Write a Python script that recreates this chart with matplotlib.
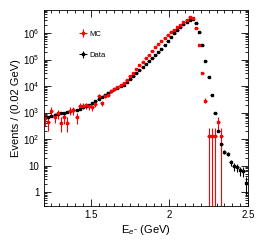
import numpy as np
import matplotlib
matplotlib.use("Agg")
import matplotlib.pyplot as plt
from matplotlib.ticker import MultipleLocator, LogLocator, FuncFormatter, NullFormatter

plt.rcParams['font.family'] = ['Liberation Sans', 'DejaVu Sans']
plt.rcParams['mathtext.fontset'] = 'custom'
plt.rcParams['mathtext.rm'] = 'Liberation Sans'
plt.rcParams['mathtext.it'] = 'Liberation Sans:italic'

# bin centres (0.02 GeV bins from 1.2 to 2.5)
energy = np.round(np.arange(1.21, 2.50, 0.02), 2)

# log10 of counts
data_log = [2.82, 2.85, 2.88, 2.91, 2.95, 2.98, 3.00, 3.03, 3.06, 3.08,
            3.11, 3.15, 3.19, 3.24, 3.30, 3.37, 3.44, 3.51, 3.59, 3.67,
            3.74, 3.82, 3.88, 3.94, 3.99, 4.05, 4.15, 4.26, 4.38, 4.49,
            4.60, 4.71, 4.83, 4.93, 5.04, 5.16, 5.28, 5.41, 5.55, 5.70,
            5.84, 6.01, 6.12, 6.23, 6.33, 6.42, 6.50, 6.54, 6.37, 6.03,
            5.54, 4.94, 4.34, 3.66, 2.97, 2.30, 1.80, 1.52, 1.45, 1.12,
            0.98, 0.93, 0.82, 0.78, 0.35]

mc_log = [2.78, 2.65, 3.07, 2.84, 2.97, 2.62, 2.82, 2.62, 3.07, 3.09,
          2.82, 3.25, 3.26, 3.27, 3.23, 3.19, 3.33, 3.62, 3.35, 3.62,
          3.68, 3.80, 3.89, 3.95, 4.02, 4.12, 4.24, 4.36, 4.48, 4.64,
          4.79, 4.89, 5.05, 5.17, 5.32, 5.46, 5.58, 5.70, 5.82, 5.92,
          6.02, 6.12, 6.22, 6.32, 6.41, 6.50, 6.59, 6.58, 6.18, 5.54,
          4.50, 3.45, 2.12, 2.12, 2.12, 2.65, 2.12, np.nan, np.nan, np.nan,
          np.nan, np.nan, np.nan, np.nan, np.nan]

mc_weight = 132.0  # weight of a single MC event

data = 10 ** np.array(data_log)
mc = 10 ** np.array(mc_log)
data_err = np.sqrt(data)
mc_err = np.sqrt(mc_weight * mc)

fig = plt.figure(figsize=(2.58, 2.49), dpi=100)
ax = fig.add_axes([0.169, 0.173, 0.792, 0.787])

def clip_err(v, e):
    # lower bar runs off the bottom of the log axis when error ~ value
    lo = np.where(e >= 0.98 * v, v - 0.05, e)
    return [lo, e]

ax.errorbar(energy, data, xerr=0.01, yerr=clip_err(data, data_err), fmt='s',
            color='black', ms=1.8, lw=0.8, capsize=0, label='Data')
ax.errorbar(energy, mc, xerr=0.01, yerr=clip_err(mc, mc_err), fmt='s',
            color='red', ms=2.0, lw=0.8, capsize=0, label='MC')

ax.set_yscale('log')
ax.set_xlim(1.2, 2.5)
ax.set_ylim(0.3, 7.4e6)

ax.xaxis.set_major_locator(MultipleLocator(0.5))
ax.xaxis.set_minor_locator(MultipleLocator(0.05))
ax.yaxis.set_major_locator(LogLocator(base=10, numticks=20))
ax.yaxis.set_minor_locator(LogLocator(base=10, subs=np.arange(2, 10), numticks=20))
ax.yaxis.set_minor_formatter(NullFormatter())

def ylab(v, pos):
    n = int(round(np.log10(v)))
    if n == 0:
        return '1'
    if n == 1:
        return '10'
    return r'$10^{%d}$' % n

ax.yaxis.set_major_formatter(FuncFormatter(ylab))
ax.xaxis.set_major_formatter(FuncFormatter(lambda v, p: '%g' % v))

ax.tick_params(which='both', direction='in', top=True, right=True,
               labelsize=7, width=0.6, pad=3)
ax.tick_params(which='major', length=5)
ax.tick_params(which='minor', length=2.5)
for s in ax.spines.values():
    s.set_linewidth(0.6)

ax.set_xlabel(r'E$_{e^{-}}$ (GeV)', fontsize=8, labelpad=2)
ax.set_ylabel('Events / (0.02 GeV)', fontsize=8, labelpad=1)

handles, labels = ax.get_legend_handles_labels()
ax.legend(handles[::-1], labels[::-1], loc='upper left',
          bbox_to_anchor=(0.14, 0.93), frameon=False, fontsize=5.5,
          labelspacing=1.8, handlelength=1.1, handletextpad=0.3)

fig.savefig('out.png', dpi=100)
